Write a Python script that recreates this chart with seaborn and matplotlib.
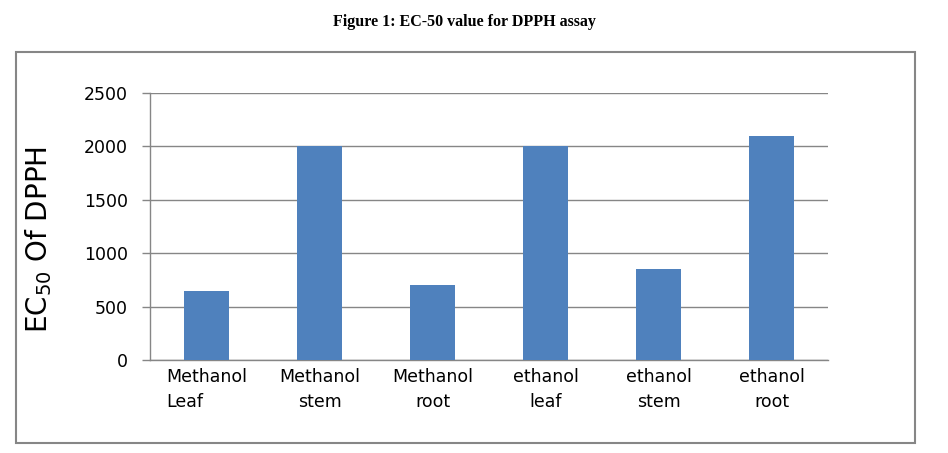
import numpy as np
import pandas as pd
import matplotlib
matplotlib.use("Agg")
import matplotlib.pyplot as plt
import matplotlib.patches as mpatches
import seaborn as sns

# datos
categorias = ["Methanol\nLeaf", "Methanol\nstem", "Methanol\nroot",
              "ethanol\nleaf", "ethanol\nstem", "ethanol\nroot"]
valores_ec50 = [650, 2000, 700, 2000, 850, 2100]
ticks_y = [0, 500, 1000, 1500, 2000, 2500]

df = pd.DataFrame({"Extracto": categorias, "EC50": valores_ec50})

sns.set_theme(style="white")
plt.rcParams["font.family"] = ["DejaVu Sans"]
plt.rcParams["mathtext.default"] = "regular"

gris = "#868686"
azul = "#4F81BD"

fig = plt.figure(figsize=(9.48, 4.53), dpi=100)
ax = fig.add_axes([150 / 948, 1 - 360 / 453, (828 - 150) / 948, (360 - 93) / 453])

sns.barplot(data=df, x="Extracto", y="EC50", color=azul, width=0.4,
            saturation=1, linewidth=0, ax=ax, zorder=3)

ax.set_ylim(0, 2500)
ax.set_yticks(ticks_y)
ax.set_yticklabels([str(t) for t in ticks_y])
ax.set_xlim(-0.5, len(categorias) - 0.5)
ax.grid(axis="y", color=gris, linewidth=1.0, zorder=0)
ax.grid(axis="x", visible=False)

for lado in ["top", "right"]:
    ax.spines[lado].set_visible(False)
for lado in ["left", "bottom"]:
    ax.spines[lado].set_color(gris)
    ax.spines[lado].set_linewidth(1.0)

ax.tick_params(axis="y", which="major", left=True, length=6, width=1.0,
               color=gris, pad=10, labelsize=12.5, labelcolor="black")
ax.tick_params(axis="x", bottom=False, pad=0, labelsize=12.5, labelcolor="black")
for i, lbl in enumerate(ax.get_xticklabels()):
    lbl.set_linespacing(1.45)
    lbl.set_multialignment("left" if i == 0 else "center")

ax.set_xlabel("")
ax.set_ylabel("")

# etiqueta del eje y
fig.text(39 / 948, 1 - 240 / 453, "EC$_{50}$ Of DPPH", rotation=90,
         ha="center", va="center", fontsize=20, color="black")

# titulo
fig.text(464 / 948, 1 - 22 / 453, "Figure 1: EC-50 value for DPPH assay",
         ha="center", va="center", fontsize=11.5, fontweight="bold",
         family=["Liberation Serif", "DejaVu Serif"], color="black")

# marco exterior
marco = mpatches.Rectangle((16 / 948, 1 - 443 / 453), (915 - 16) / 948, (443 - 52) / 453,
                           transform=fig.transFigure, fill=False,
                           edgecolor=gris, linewidth=1.5)
fig.patches.append(marco)

fig.savefig("out.png", dpi=100)
